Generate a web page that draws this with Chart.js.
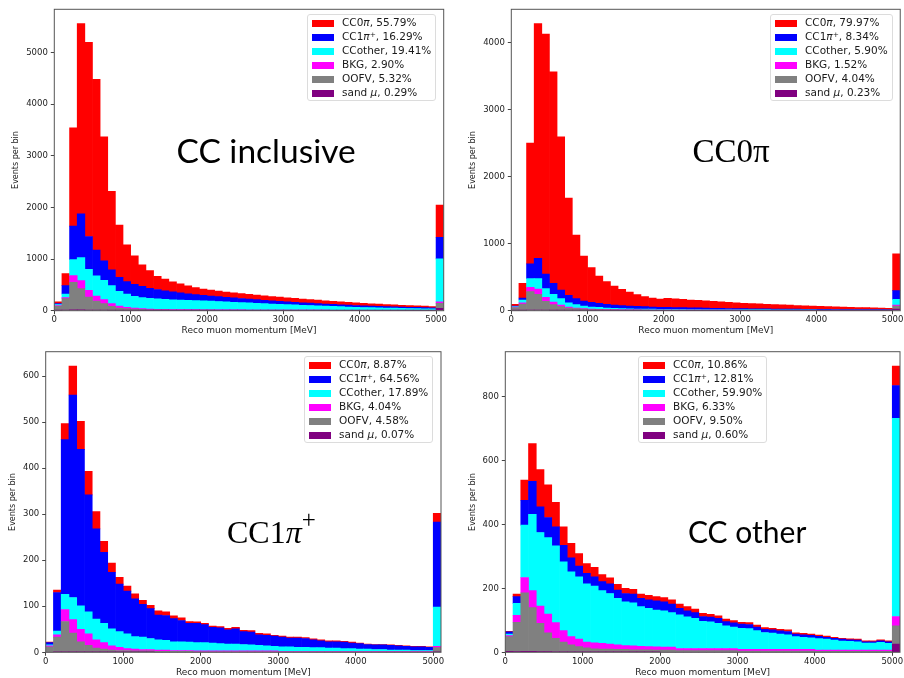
<!DOCTYPE html>
<html>
<head>
<meta charset="utf-8">
<script src="https://cdn.jsdelivr.net/npm/chart.js@4.4.0/dist/chart.umd.min.js"></script>
<style>
  body { margin: 0; background: #fff; }
  #page { position: relative; width: 904px; height: 678px; overflow: hidden; background: #fff; }
  .panel { position: absolute; width: 452px; height: 339px; }
  .panel canvas { position: absolute; left: 0; top: 0; }
  .legend {
    position: absolute;
    background: rgba(255, 255, 255, 0.8);
    border: 1px solid #dcdcdc;
    border-radius: 3px;
    padding: 0 4px 0 4px;
    font: 10.5px "DejaVu Sans";
    color: #1a1a1a;
  }
  .legend .row { height: 14.1px; line-height: 14.1px; white-space: nowrap; }
  .legend .sw { display: inline-block; width: 21.5px; height: 7px; margin-right: 8.5px; vertical-align: middle; }
  .legend sup { font-size: 70%; line-height: 0; vertical-align: 0.45em; }
  .tag { position: absolute; line-height: 1; white-space: nowrap; color: #000; }
  .tag sup { font-size: 78%; line-height: 0; vertical-align: 0.6em; }
</style>
</head>
<body>
<div id="page">
  <div class="panel" style="left:0;top:0">
    <canvas id="chartInclusive" width="452" height="339"></canvas>
    <div class="legend" id="legendInclusive" style="left:307px;top:14px"></div>
    <div class="tag" style="left:176.5px;top:129.6px;font:33.5px Lato">CC inclusive</div>
  </div>
  <div class="panel" style="left:452px;top:0">
    <canvas id="chartZeroPi" width="452" height="339"></canvas>
    <div class="legend" id="legendZeroPi" style="left:318px;top:14px"></div>
    <div class="tag" style="left:240.5px;top:132.7px;font:33px 'Liberation Serif'">CC0π</div>
  </div>
  <div class="panel" style="left:0;top:339px">
    <canvas id="chartOnePi" width="452" height="339"></canvas>
    <div class="legend" id="legendOnePi" style="left:304px;top:17px"></div>
    <div class="tag" style="left:227px;top:175.2px;font:32px 'Liberation Serif'">CC1<i>π</i><sup>+</sup></div>
  </div>
  <div class="panel" style="left:452px;top:339px">
    <canvas id="chartOther" width="452" height="339"></canvas>
    <div class="legend" id="legendOther" style="left:186px;top:17px"></div>
    <div class="tag" style="left:236px;top:174.4px;font:30px Lato">CC other</div>
  </div>
</div>

<script>
// 100 MeV bins from 0 to 5000, last bin (5000-5100) holds the overflow
var binWidth = 100;
var binLow = [];
for (var b = 0; b <= 50; b++) {
  binLow.push(b * binWidth);
}
var xTicks = [0, 1000, 2000, 3000, 4000, 5000];

// legend order, top of the stack first
var seriesNames = ["CC0π", "CC1π+", "CCother", "BKG", "OOFV", "sand μ"];
var legendNames = ["CC0<i>π</i>", "CC1<i>π</i><sup>+</sup>", "CCother", "BKG", "OOFV", "sand <i>μ</i>"];
var seriesColors = ["#ff0000", "#0000ff", "#00ffff", "#ff00ff", "#808080", "#800080"];

// ---- CC inclusive ----
var incPct = [55.79, 16.29, 19.41, 2.90, 5.32, 0.29];
var incYTicks = [0, 1000, 2000, 3000, 4000, 5000];
var incSand = [5, 10, 15, 15, 12, 10, 8, 6, 5, 4, 3, 3, 3, 2, 2, 2, 2, 2, 2, 2, 1, 1, 1, 1, 1, 1, 1, 1, 1, 1, 1, 1, 1, 1, 1, 1, 1, 1, 1, 1, 1, 1, 1, 1, 1, 1, 1, 1, 1, 1, 45];
var incOOFV = [85, 223, 535, 412, 253, 178, 128, 78, 47, 35, 29, 23, 16, 14, 13, 12, 11, 10, 10, 9, 9, 8, 8, 8, 7, 7, 7, 6, 6, 6, 6, 5, 5, 5, 5, 5, 4, 4, 4, 4, 4, 4, 4, 3, 3, 3, 3, 3, 3, 3, 97];
var incBKG = [10, 19, 129, 155, 130, 97, 77, 52, 39, 26, 20, 13, 12, 12, 11, 10, 10, 9, 9, 8, 8, 8, 7, 7, 7, 6, 6, 6, 6, 5, 5, 5, 5, 4, 4, 4, 4, 4, 3, 3, 3, 3, 3, 3, 3, 2, 2, 2, 2, 2, 32];
var incOther = [20, 71, 311, 446, 407, 388, 376, 349, 284, 258, 226, 213, 209, 202, 194, 188, 182, 179, 174, 171, 167, 161, 154, 147, 141, 136, 130, 124, 117, 112, 106, 101, 95, 90, 85, 80, 75, 69, 64, 59, 54, 50, 47, 45, 42, 40, 37, 34, 31, 29, 828];
var incCC1pi = [20, 162, 646, 848, 634, 498, 375, 304, 272, 240, 233, 220, 195, 180, 165, 153, 140, 125, 115, 106, 99, 94, 90, 85, 80, 75, 70, 66, 62, 58, 54, 51, 48, 46, 43, 40, 38, 37, 36, 34, 33, 31, 29, 27, 26, 25, 24, 23, 22, 20, 420];
var incCC0pi = [30, 233, 1902, 3680, 3758, 3305, 2400, 1520, 1009, 711, 550, 414, 341, 255, 225, 195, 175, 155, 138, 124, 114, 108, 102, 97, 94, 90, 86, 84, 82, 80, 78, 75, 72, 69, 66, 63, 60, 57, 54, 51, 48, 45, 42, 40, 37, 34, 32, 31, 29, 27, 621];

// ---- CC0pi sample ----
var zeroPct = [79.97, 8.34, 5.90, 1.52, 4.04, 0.23];
var zeroYTicks = [0, 1000, 2000, 3000, 4000];
var zeroSand = [3, 5, 10, 10, 8, 6, 5, 4, 3, 3, 2, 2, 2, 2, 2, 2, 2, 1, 1, 1, 1, 1, 1, 1, 1, 1, 1, 1, 1, 1, 1, 1, 1, 1, 1, 1, 1, 1, 1, 1, 1, 1, 1, 1, 1, 1, 1, 1, 1, 1, 25];
var zeroOOFV = [45, 95, 274, 234, 131, 84, 55, 36, 27, 20, 16, 14, 12, 10, 9, 8, 7, 7, 6, 6, 5, 5, 5, 5, 5, 5, 5, 5, 5, 5, 4, 4, 4, 4, 4, 4, 4, 4, 4, 4, 3, 3, 3, 3, 3, 3, 3, 3, 3, 3, 45];
var zeroBKG = [5, 19, 64, 79, 60, 39, 25, 15, 10, 7, 6, 5, 4, 4, 3, 3, 3, 3, 3, 2, 2, 2, 2, 2, 2, 2, 2, 2, 2, 2, 2, 2, 2, 2, 2, 2, 2, 2, 2, 2, 1, 1, 1, 1, 1, 1, 1, 1, 1, 1, 15];
var zeroOther = [7, 40, 130, 155, 129, 115, 94, 64, 50, 40, 31, 29, 22, 19, 16, 15, 14, 14, 14, 13, 12, 11, 11, 10, 10, 9, 9, 9, 8, 8, 9, 9, 8, 8, 7, 7, 6, 6, 5, 5, 6, 6, 5, 5, 5, 4, 4, 4, 3, 3, 84];
var zeroCC1pi = [10, 30, 219, 303, 219, 164, 129, 110, 89, 74, 69, 59, 55, 50, 45, 42, 39, 35, 31, 28, 30, 28, 26, 25, 23, 22, 20, 18, 17, 15, 14, 13, 13, 12, 12, 11, 11, 10, 10, 9, 9, 8, 8, 7, 7, 7, 7, 6, 7, 6, 130];
var zeroCC0pi = [25, 219, 1801, 3498, 3577, 3154, 2284, 1448, 950, 672, 518, 408, 338, 283, 243, 209, 174, 149, 134, 124, 135, 129, 123, 117, 112, 107, 102, 97, 92, 87, 81, 77, 73, 69, 65, 61, 58, 55, 52, 49, 46, 43, 40, 38, 35, 32, 29, 27, 24, 22, 547];

// ---- CC1pi+ sample ----
var onePct = [8.87, 64.56, 17.89, 4.04, 4.58, 0.07];
var oneYTicks = [0, 100, 200, 300, 400, 500, 600];
var oneSand = [0, 1, 1, 1, 1, 1, 1, 1, 1, 1, 1, 1, 1, 1, 0, 0, 0, 0, 0, 0, 0, 0, 0, 0, 0, 0, 0, 0, 0, 0, 0, 0, 0, 0, 0, 0, 0, 0, 0, 0, 0, 0, 0, 0, 0, 0, 0, 0, 0, 0, 1];
var oneOOFV = [12, 32, 66, 41, 22, 14, 8, 6, 4, 3, 3, 2, 2, 2, 2, 2, 2, 2, 2, 1, 1, 1, 1, 1, 1, 1, 1, 1, 1, 1, 1, 1, 1, 1, 1, 1, 1, 1, 1, 1, 1, 1, 1, 1, 1, 1, 1, 1, 1, 1, 9];
var oneBKG = [2, 5, 26, 29, 27, 25, 18, 14, 9, 7, 4, 4, 3, 3, 3, 3, 2, 2, 2, 2, 2, 2, 2, 2, 2, 2, 2, 2, 2, 2, 1, 1, 1, 1, 1, 1, 1, 1, 1, 1, 1, 1, 1, 1, 1, 1, 1, 1, 1, 1, 3];
var oneOther = [2, 8, 33, 48, 51, 48, 45, 42, 37, 34, 32, 27, 27, 24, 22, 21, 19, 19, 18, 18, 18, 17, 16, 15, 15, 14, 13, 12, 11, 10, 10, 10, 9, 9, 8, 8, 7, 7, 6, 6, 5, 5, 4, 4, 3, 3, 3, 2, 2, 2, 85];
var oneCC1pi = [5, 84, 336, 440, 340, 254, 196, 154, 123, 103, 93, 82, 71, 65, 54, 54, 50, 46, 41, 42, 39, 34, 34, 31, 33, 28, 28, 23, 23, 22, 21, 19, 20, 19, 17, 15, 14, 14, 14, 12, 12, 10, 10, 10, 10, 9, 8, 8, 8, 7, 185];
var oneCC0pi = [1, 5, 35, 63, 61, 51, 38, 24, 20, 15, 11, 11, 9, 7, 9, 8, 6, 6, 4, 3, 3, 3, 3, 3, 3, 3, 3, 3, 3, 2, 2, 2, 2, 2, 2, 2, 2, 2, 2, 2, 1, 1, 1, 1, 1, 1, 1, 1, 1, 1, 19];

// ---- CC other sample ----
var otherPct = [10.86, 12.81, 59.90, 6.33, 9.50, 0.60];
var otherYTicks = [0, 200, 400, 600, 800];
var otherSand = [3, 2, 3, 3, 2, 2, 1, 1, 1, 1, 1, 1, 1, 1, 1, 1, 1, 1, 1, 1, 0, 0, 0, 0, 0, 0, 0, 0, 0, 0, 0, 0, 0, 0, 0, 0, 0, 0, 0, 0, 0, 0, 0, 0, 0, 0, 0, 0, 0, 0, 26];
var otherOOFV = [46, 92, 183, 137, 89, 59, 43, 31, 22, 17, 13, 10, 9, 9, 8, 8, 7, 7, 7, 6, 7, 7, 5, 5, 5, 5, 5, 5, 5, 5, 4, 4, 4, 4, 4, 4, 4, 4, 4, 4, 3, 3, 3, 3, 3, 3, 3, 3, 3, 3, 57];
var otherBKG = [3, 22, 48, 53, 54, 59, 49, 36, 26, 23, 18, 19, 18, 16, 14, 12, 12, 11, 10, 10, 9, 9, 7, 7, 7, 7, 7, 7, 7, 7, 5, 5, 5, 5, 5, 5, 5, 5, 5, 5, 4, 4, 4, 4, 4, 4, 4, 4, 4, 4, 29];
var otherOther = [5, 37, 164, 239, 230, 239, 240, 215, 203, 195, 182, 177, 165, 158, 146, 137, 135, 124, 120, 115, 114, 108, 105, 99, 94, 85, 83, 79, 71, 67, 66, 65, 59, 53, 51, 48, 46, 40, 38, 36, 36, 34, 31, 28, 27, 26, 22, 22, 24, 21, 620];
var otherCC1pi = [7, 21, 78, 103, 80, 63, 60, 52, 44, 34, 33, 29, 28, 30, 26, 26, 27, 26, 26, 29, 28, 27, 21, 19, 18, 15, 15, 15, 13, 13, 13, 13, 11, 10, 10, 10, 10, 8, 8, 8, 7, 6, 6, 6, 5, 5, 4, 4, 5, 5, 103];
var otherCC0pi = [2, 8, 63, 118, 117, 102, 76, 58, 45, 39, 31, 30, 22, 19, 18, 16, 15, 13, 14, 13, 13, 13, 13, 13, 11, 10, 9, 8, 8, 7, 6, 6, 6, 5, 5, 5, 5, 4, 4, 4, 4, 4, 3, 3, 3, 3, 3, 3, 3, 3, 61];

var panels = [
  {
    canvas: "chartInclusive", legend: "legendInclusive",
    series: [incCC0pi, incCC1pi, incOther, incBKG, incOOFV, incSand],
    pct: incPct, yTicks: incYTicks,
    box: [54.3, 9.3, 443.7, 310.7], yTitlePad: 11.2, xTitlePad: 2.6
  },
  {
    canvas: "chartZeroPi", legend: "legendZeroPi",
    series: [zeroCC0pi, zeroCC1pi, zeroOther, zeroBKG, zeroOOFV, zeroSand],
    pct: zeroPct, yTicks: zeroYTicks,
    box: [59.3, 9.3, 448.3, 310.7], yTitlePad: 16.2, xTitlePad: 2.6
  },
  {
    canvas: "chartOnePi", legend: "legendOnePi",
    series: [oneCC0pi, oneCC1pi, oneOther, oneBKG, oneOOFV, oneSand],
    pct: onePct, yTicks: oneYTicks,
    box: [45.7, 12.7, 441, 313.3], yTitlePad: 8.5, xTitlePad: 0.3
  },
  {
    canvas: "chartOther", legend: "legendOther",
    series: [otherCC0pi, otherCC1pi, otherOther, otherBKG, otherOOFV, otherSand],
    pct: otherPct, yTicks: otherYTicks,
    box: [53.3, 12.7, 448, 313.3], yTitlePad: 15.9, xTitlePad: 0.3
  }
];

// axes box drawn on all four sides
var frameBox = {
  id: "frameBox",
  afterDatasetsDraw: function (chart) {
    var a = chart.chartArea;
    var ctx = chart.ctx;
    ctx.save();
    ctx.strokeStyle = "#555";
    ctx.lineWidth = 1;
    ctx.strokeRect(a.left, a.top, a.right - a.left, a.bottom - a.top);
    ctx.restore();
  }
};

function buildLegend(el, pct) {
  var html = "";
  for (var i = 0; i < legendNames.length; i++) {
    html += '<div class="row"><span class="sw" style="background:' + seriesColors[i] + '"></span>' +
      legendNames[i] + ", " + pct[i].toFixed(2) + "%</div>";
  }
  document.getElementById(el).innerHTML = html;
}

function drawPanel(p) {
  var datasets = [];
  // bottom of the stack first: sand mu, OOFV, BKG, CCother, CC1pi, CC0pi
  for (var s = p.series.length - 1; s >= 0; s--) {
    var vals = p.series[s];
    datasets.push({
      label: seriesNames[s],
      backgroundColor: seriesColors[s],
      borderWidth: 0,
      barPercentage: 1,
      categoryPercentage: 1,
      data: vals.map(function (v, i) {
        return { x: binLow[i] + binWidth / 2, y: v };
      })
    });
  }

  var maxTotal = 0;
  for (var i = 0; i < binLow.length; i++) {
    var tot = 0;
    for (var k = 0; k < p.series.length; k++) tot += p.series[k][i];
    if (tot > maxTotal) maxTotal = tot;
  }

  var tickFont = { family: "DejaVu Sans", size: 8.5 };

  new Chart(document.getElementById(p.canvas).getContext("2d"), {
    type: "bar",
    data: { datasets: datasets },
    options: {
      responsive: false,
      animation: false,
      devicePixelRatio: 1,
      layout: {
        padding: { left: 0, top: p.box[1], right: 452 - p.box[2], bottom: 0 }
      },
      plugins: {
        legend: { display: false },
        tooltip: { enabled: false }
      },
      scales: {
        x: {
          type: "linear",
          stacked: true,
          offset: false,
          min: 0,
          max: binLow[binLow.length - 1] + binWidth,
          afterBuildTicks: function (scale) {
            scale.ticks = xTicks.map(function (v) { return { value: v }; });
          },
          afterFit: function (scale) {
            scale.height = 339 - p.box[3];
          },
          grid: {
            offset: false,
            drawOnChartArea: false,
            tickLength: 3.5,
            tickColor: "#444"
          },
          border: { display: false },
          ticks: {
            font: tickFont,
            color: "#222",
            padding: 0.5,
            maxRotation: 0,
            callback: function (v) { return String(v); }
          },
          title: {
            display: true,
            text: "Reco muon momentum [MeV]",
            font: { family: "DejaVu Sans", size: 9 },
            color: "#222",
            padding: { top: 0, bottom: p.xTitlePad }
          }
        },
        y: {
          stacked: true,
          min: 0,
          max: maxTotal * 1.05,
          afterBuildTicks: function (scale) {
            scale.ticks = p.yTicks.map(function (v) { return { value: v }; });
          },
          afterFit: function (scale) {
            scale.width = p.box[0];
          },
          grid: {
            drawOnChartArea: false,
            tickLength: 3.5,
            tickColor: "#444"
          },
          border: { display: false },
          ticks: {
            font: tickFont,
            color: "#222",
            padding: 3,
            callback: function (v) { return String(v); }
          },
          title: {
            display: true,
            text: "Events per bin",
            font: { family: "DejaVu Sans", size: 8 },
            color: "#222",
            padding: { top: p.yTitlePad, bottom: 0 }
          }
        }
      }
    },
    plugins: [frameBox]
  });

  buildLegend(p.legend, p.pct);
}

panels.forEach(drawPanel);
</script>
</body>
</html>
